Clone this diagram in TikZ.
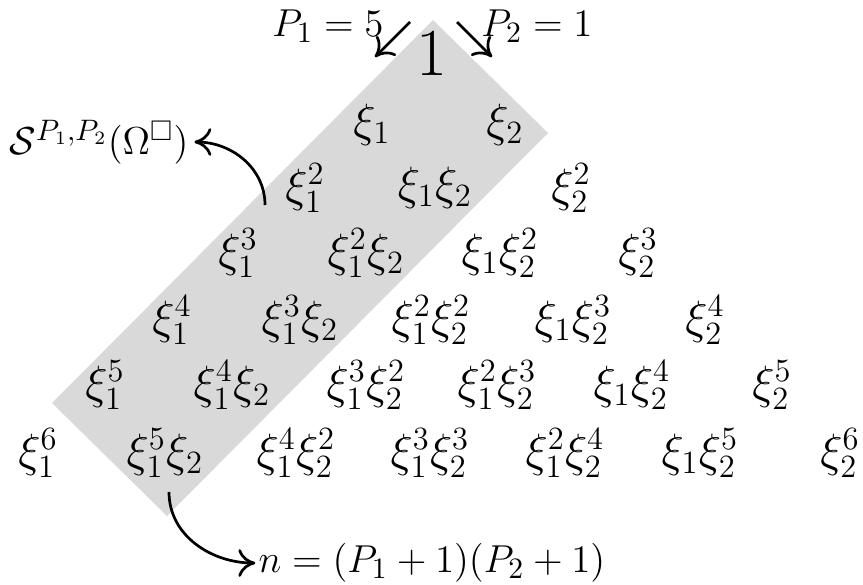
\documentclass[tikz,border=0pt]{standalone}
\usepackage{amsmath,amssymb}
\usepackage{tikz}
\usetikzlibrary{arrows.meta,positioning,calc}

\begin{document}
\begin{tikzpicture}[x=0.013cm, y=-0.013cm,
  term/.style={inner sep=0pt, font=\LARGE},
  lbl/.style={inner sep=0pt, font=\fontsize{15}{18}\selectfont},
  arr/.style={-{To[length=2.2mm,width=3.6mm]}, line width=1pt, draw=black}
]
  \useasboundingbox (0,0) rectangle (863,584);
  % shaded band of the retained terms
  \fill[black!15] (433,20) -- (548,133) -- (167,516) -- (52,403) -- cycle;

  \node[inner sep=0pt, font=\Huge] (t00) at (432,54) {$1$};
  % degree 1
  \node[term] (t10) at (372,125) {$\xi_1$};
  \node[term] (t01) at (505,125) {$\xi_2$};
  % degree 2
  \node[term] (t20) at (305,188) {$\xi_1^2$};
  \node[term] (t11) at (435,188) {$\xi_1\xi_2$};
  \node[term] (t02) at (571,188) {$\xi_2^2$};
  % degree 3
  \node[term] (t30) at (238,253) {$\xi_1^3$};
  \node[term] (t21) at (366,253) {$\xi_1^2\xi_2$};
  \node[term] (t12) at (500,253) {$\xi_1\xi_2^2$};
  \node[term] (t03) at (638,253) {$\xi_2^3$};
  % degree 4
  \node[term] (t40) at (172,320) {$\xi_1^4$};
  \node[term] (t31) at (300,320) {$\xi_1^3\xi_2$};
  \node[term] (t22) at (431,320) {$\xi_1^2\xi_2^2$};
  \node[term] (t13) at (573,320) {$\xi_1\xi_2^3$};
  \node[term] (t04) at (705,320) {$\xi_2^4$};
  % degree 5
  \node[term] (t50) at (105,385) {$\xi_1^5$};
  \node[term] (t41) at (232,385) {$\xi_1^4\xi_2$};
  \node[term] (t32) at (366,385) {$\xi_1^3\xi_2^2$};
  \node[term] (t23) at (497,385) {$\xi_1^2\xi_2^3$};
  \node[term] (t14) at (632,385) {$\xi_1\xi_2^4$};
  \node[term] (t05) at (772,385) {$\xi_2^5$};
  % degree 6
  \node[term] (t60) at (38,453) {$\xi_1^6$};
  \node[term] (t51) at (165,453) {$\xi_1^5\xi_2$};
  \node[term] (t42) at (296,453) {$\xi_1^4\xi_2^2$};
  \node[term] (t33) at (430,453) {$\xi_1^3\xi_2^3$};
  \node[term] (t24) at (565,453) {$\xi_1^2\xi_2^4$};
  \node[term] (t15) at (700,453) {$\xi_1\xi_2^5$};
  \node[term] (t06) at (840,453) {$\xi_2^6$};

  % labels
  \node[lbl] (pone) at (328,26) {$P_1=5$};
  \node[lbl] (ptwo) at (537,26) {$P_2=1$};
  \node[lbl] (space) at (99,142) {$\mathcal{S}^{P_1,P_2}(\Omega^{\square})$};
  \node[lbl, anchor=west] (count) at (258,563) {$n=(P_1+1)(P_2+1)$};

  \coordinate (pones) at (410,22);
  \coordinate (ponee) at (375,57);
  \coordinate (ptwos) at (457,22);
  \coordinate (ptwoe) at (492,57);
  \coordinate (bandup) at (265,205);
  \coordinate (banddn) at (169,492);

  \draw[arr] (pones) -- (ponee);
  \draw[arr] (ptwos) -- (ptwoe);
  \draw[arr] (bandup) to[out=90,in=0] ([xshift=2pt]space.east);
  \draw[arr] (banddn) to[out=-90,in=180] ([xshift=-1pt]count.west);
\end{tikzpicture}
\end{document}
